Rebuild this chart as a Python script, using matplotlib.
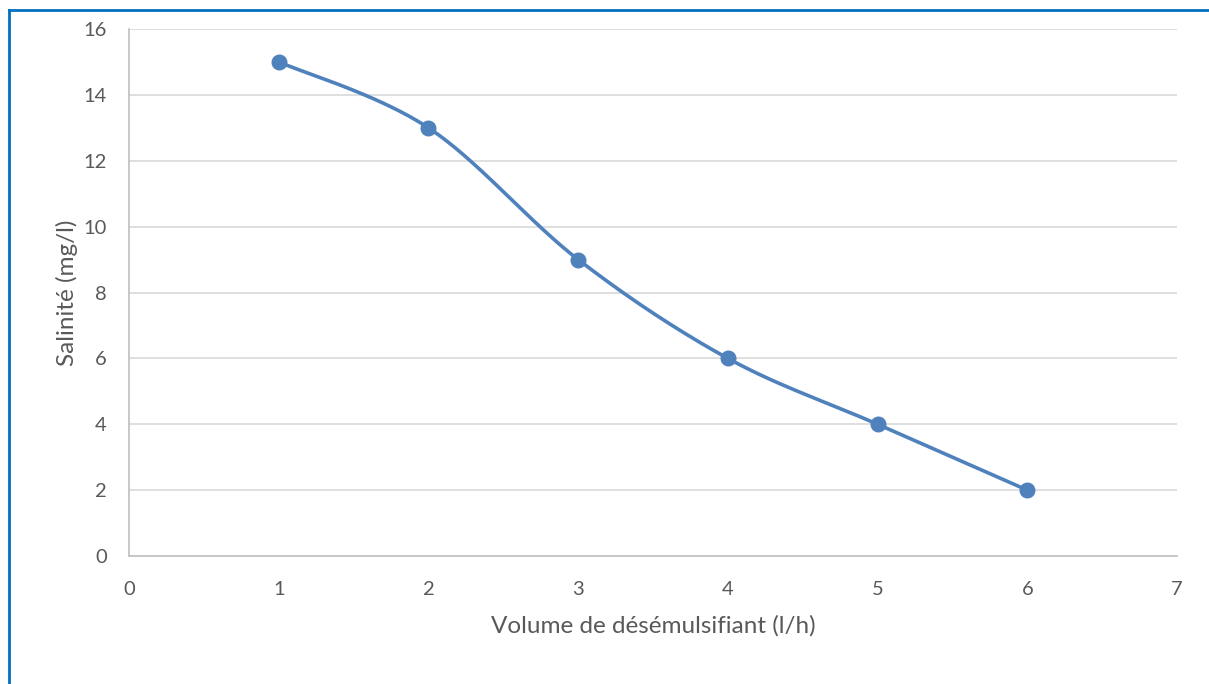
import numpy as np
import matplotlib
matplotlib.use("Agg")
import matplotlib.pyplot as plt
from matplotlib.lines import Line2D

volume = [1, 2, 3, 4, 5, 6]
salinite = [15, 13, 9, 6, 4, 2]
x_ticks = [0, 1, 2, 3, 4, 5, 6, 7]
y_ticks = [0, 2, 4, 6, 8, 10, 12, 14, 16]

plt.rcParams['font.family'] = ['Lato', 'DejaVu Sans']

def smooth(xs, ys, n=40):
    xs = np.asarray(xs, float); ys = np.asarray(ys, float)
    P = np.column_stack([xs, ys])
    out = []
    for i in range(len(P) - 1):
        p0 = P[i - 1] if i > 0 else P[i]
        p1 = P[i]; p2 = P[i + 1]
        p3 = P[i + 2] if i + 2 < len(P) else P[i + 1]
        c1 = p1 + (p2 - p0) / 6
        c2 = p2 - (p3 - p1) / 6
        t = np.linspace(0, 1, n)[:, None]
        seg = (1 - t) ** 3 * p1 + 3 * (1 - t) ** 2 * t * c1 + 3 * (1 - t) * t ** 2 * c2 + t ** 3 * p2
        out.append(seg if i == 0 else seg[1:])
    S = np.vstack(out)
    return S[:, 0], S[:, 1]

fig = plt.figure(figsize=(12.09, 6.84), dpi=100)
ax = fig.add_axes([129/1209, 1 - 556/684, (1177 - 129)/1209, (556 - 29)/684])

color = '#4F81BD'
sx, sy = smooth(volume, salinite)
ax.plot(sx, sy, color=color, lw=2.6, solid_capstyle='round', zorder=3)
ax.plot(volume, salinite, 'o', color=color, ms=10.5, zorder=4)

ax.set_xlim(0, 7)
ax.set_ylim(0, 16)
ax.set_xticks(x_ticks)
ax.set_yticks(y_ticks)
ax.grid(axis='y', color='#D9D9D9', lw=1.2)
ax.set_axisbelow(True)
for s in ['top', 'right']:
    ax.spines[s].set_visible(False)
for s in ['left', 'bottom']:
    ax.spines[s].set_color('#BFBFBF')
    ax.spines[s].set_linewidth(1.2)
ax.tick_params(length=0, labelsize=14.5, labelcolor='#595959')
ax.tick_params(axis='x', pad=18)
ax.tick_params(axis='y', pad=16)
ax.set_xlabel('Volume de désémulsifiant (l/h)', fontsize=17.5, color='#595959', labelpad=12)
ax.set_ylabel('Salinité (mg/l)', fontsize=17.5, color='#595959', labelpad=4)

# border
bc = '#0070C0'
fig.add_artist(Line2D([8.5/1209, 8.5/1209], [0, 1 - 10/684], transform=fig.transFigure, color=bc, lw=2))
fig.add_artist(Line2D([8.5/1209, 1], [1 - 10/684, 1 - 10/684], transform=fig.transFigure, color=bc, lw=2))

fig.savefig('out.png', dpi=100)
